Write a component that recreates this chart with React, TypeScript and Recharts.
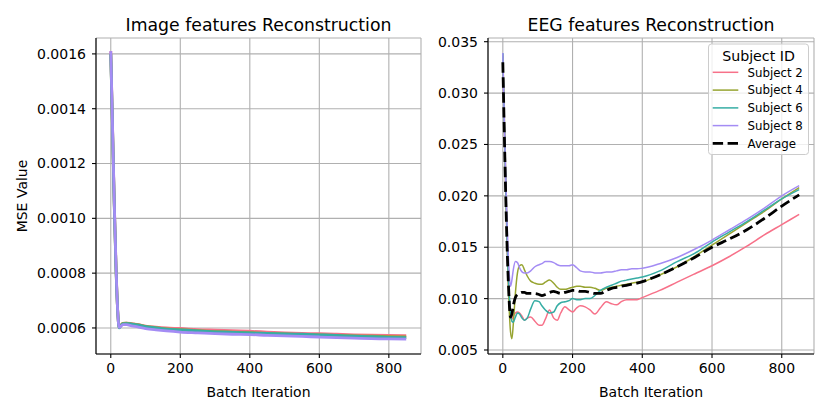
import React from 'react';
import { LineChart, Line, XAxis, YAxis, CartesianGrid } from 'recharts';

// ---------- Image features panel ----------
const imgIter = [0, 5, 10, 15, 20, 24, 28, 35, 45, 60, 80, 100, 130, 160, 200, 250, 300, 350, 400, 450, 500, 550, 600, 650, 700, 750, 800, 850];
const imgSubject2 = [0.00161, 0.00134, 0.00106, 0.00083, 0.00066, 0.000603, 0.000608, 0.000617, 0.000618, 0.000616, 0.000612, 0.000607, 0.000603, 0.0006, 0.000598, 0.000594, 0.000592, 0.00059, 0.000588, 0.000585, 0.000582, 0.00058, 0.000579, 0.000577, 0.000575, 0.000574, 0.000573, 0.000572];
const imgSubject4 = [0.0016, 0.00133, 0.00105, 0.00082, 0.00066, 0.000602, 0.000608, 0.000617, 0.000618, 0.000615, 0.000611, 0.000606, 0.000601, 0.000597, 0.000594, 0.00059, 0.000587, 0.000585, 0.000583, 0.00058, 0.000578, 0.000576, 0.000575, 0.000573, 0.000571, 0.00057, 0.000568, 0.000567];
const imgSubject6 = [0.0016, 0.00133, 0.00105, 0.00082, 0.00066, 0.0006, 0.000606, 0.000615, 0.000616, 0.000614, 0.00061, 0.000605, 0.0006, 0.000596, 0.000593, 0.000589, 0.000586, 0.000584, 0.000582, 0.00058, 0.000578, 0.000577, 0.000575, 0.000573, 0.00057, 0.000568, 0.000566, 0.000565];
const imgSubject8 = [0.00161, 0.00134, 0.00106, 0.00083, 0.00066, 0.000602, 0.000605, 0.000612, 0.000612, 0.000608, 0.000603, 0.000598, 0.000593, 0.000589, 0.000585, 0.000582, 0.000579, 0.000577, 0.000576, 0.000573, 0.000571, 0.000569, 0.000567, 0.000565, 0.000563, 0.000561, 0.00056, 0.000559];
const imgYTicks = [0.0006, 0.0008, 0.001, 0.0012, 0.0014, 0.0016];

// ---------- EEG features panel ----------
const eegIter = [0, 16, 22, 26, 30, 36, 42, 48, 55, 62, 70, 80, 92, 104, 112, 122, 134, 146, 156, 166, 178, 190, 200, 212, 222, 236, 250, 264, 280, 297, 312, 326, 340, 355, 370, 385, 400, 450, 500, 550, 600, 650, 700, 750, 800, 850];
const eegSubject2 = [0.0336, 0.0115, 0.0085, 0.008, 0.0083, 0.0086, 0.0087, 0.0086, 0.0083, 0.0079, 0.0081, 0.0082, 0.0078, 0.0074, 0.0074, 0.008, 0.0089, 0.0081, 0.0079, 0.0086, 0.0092, 0.0089, 0.0087, 0.0091, 0.0093, 0.0092, 0.0089, 0.0085, 0.0091, 0.0097, 0.0095, 0.0094, 0.0097, 0.0099, 0.0099, 0.0099, 0.0101, 0.0108, 0.0116, 0.0124, 0.0132, 0.0141, 0.0151, 0.0162, 0.0172, 0.0182];
const eegSubject4 = [0.0338, 0.011, 0.0068, 0.0061, 0.0075, 0.0105, 0.0125, 0.0132, 0.0133, 0.0128, 0.0122, 0.0117, 0.0115, 0.0114, 0.0114, 0.0116, 0.0118, 0.0115, 0.0111, 0.0109, 0.0109, 0.011, 0.0111, 0.0112, 0.0112, 0.0111, 0.0111, 0.011, 0.0108, 0.011, 0.0111, 0.0112, 0.0113, 0.0114, 0.0115, 0.0116, 0.01165, 0.0123, 0.0131, 0.0141, 0.0152, 0.0163, 0.0174, 0.0185, 0.0197, 0.0208];
const eegSubject6 = [0.0339, 0.012, 0.0088, 0.0078, 0.0077, 0.0082, 0.0086, 0.0085, 0.0081, 0.0079, 0.0081, 0.009, 0.0098, 0.0097, 0.0093, 0.0089, 0.0086, 0.0087, 0.0093, 0.0096, 0.0097, 0.0098, 0.01, 0.0099, 0.0099, 0.01, 0.01, 0.0103, 0.0108, 0.0111, 0.0113, 0.0115, 0.0117, 0.0118, 0.0119, 0.012, 0.0121, 0.0127, 0.0136, 0.0144, 0.0155, 0.0165, 0.0175, 0.0186, 0.0197, 0.0206];
const eegSubject8 = [0.0339, 0.014, 0.0112, 0.0118, 0.0128, 0.0136, 0.0135, 0.013, 0.0126, 0.0125, 0.0125, 0.0127, 0.0131, 0.0133, 0.0134, 0.0136, 0.0136, 0.0135, 0.0133, 0.0132, 0.0132, 0.0132, 0.0133, 0.013, 0.0127, 0.0126, 0.0126, 0.0125, 0.0125, 0.0126, 0.0126, 0.0127, 0.0128, 0.0128, 0.0129, 0.0129, 0.01295, 0.0134, 0.014, 0.0148, 0.0157, 0.0167, 0.0177, 0.0188, 0.02, 0.021];
const eegAverage = [0.033, 0.0115, 0.0082, 0.0085, 0.0093, 0.0101, 0.0104, 0.0105, 0.0106, 0.0106, 0.0105, 0.0105, 0.0105, 0.0104, 0.0103, 0.0104, 0.0106, 0.0107, 0.0106, 0.0105, 0.0106, 0.0107, 0.0108, 0.0108, 0.0107, 0.0107, 0.0106, 0.0105, 0.0105, 0.0108, 0.011, 0.0111, 0.0112, 0.0113, 0.0114, 0.0115, 0.01165, 0.0123, 0.0131, 0.014, 0.015, 0.0158, 0.0167, 0.0178, 0.019, 0.0201];
const eegYTicks = [0.005, 0.01, 0.015, 0.02, 0.025, 0.03, 0.035];

const xTicks = [0, 200, 400, 600, 800];
const xDomain = [-42.5, 892.5];

const subjects = [
  { key: 's2', name: 'Subject 2', color: '#f77189' },
  { key: 's4', name: 'Subject 4', color: '#97a431' },
  { key: 's6', name: 'Subject 6', color: '#36ada4' },
  { key: 's8', name: 'Subject 8', color: '#a48cf4' },
];
const averageMeta = { key: 'avg', name: 'Average', color: '#000000' };

const imgData = imgIter.map((x, i) => ({
  x,
  s2: imgSubject2[i],
  s4: imgSubject4[i],
  s6: imgSubject6[i],
  s8: imgSubject8[i],
}));

const eegData = eegIter.map((x, i) => ({
  x,
  s2: eegSubject2[i],
  s4: eegSubject4[i],
  s6: eegSubject6[i],
  s8: eegSubject8[i],
  avg: eegAverage[i],
}));

const FONT = "'DejaVu Sans', sans-serif";
const tickStyle = { fill: '#000', fontSize: 14, fontFamily: FONT };
const spine = { stroke: '#000', strokeWidth: 1.1 };

type PanelProps = {
  data: any[];
  width: number;
  yWidth: number;
  rightMargin: number;
  yDomain: number[];
  yTicks: number[];
  digits: number;
  children: React.ReactNode;
};

function Panel({ data, width, yWidth, rightMargin, yDomain, yTicks, digits, children }: PanelProps) {
  return (
    <LineChart
      width={width}
      height={415}
      data={data}
      margin={{ top: 38, right: rightMargin, bottom: 0, left: 0 }}
    >
      <CartesianGrid stroke="#b0b0b0" strokeWidth={1.1} />
      <XAxis
        dataKey="x"
        type="number"
        domain={xDomain}
        ticks={xTicks}
        allowDataOverflow
        height={61}
        tickSize={4}
        tickMargin={5}
        axisLine={spine}
        tickLine={spine}
        tick={tickStyle}
      />
      <XAxis
        xAxisId="top"
        orientation="top"
        dataKey="x"
        type="number"
        domain={xDomain}
        allowDataOverflow
        height={0}
        tick={false}
        tickLine={false}
        axisLine={spine}
      />
      <YAxis
        type="number"
        domain={yDomain}
        ticks={yTicks}
        allowDataOverflow
        width={yWidth}
        tickSize={4}
        tickMargin={6}
        axisLine={spine}
        tickLine={spine}
        tick={tickStyle}
        tickFormatter={(v: number) => v.toFixed(digits)}
      />
      <YAxis
        yAxisId="right"
        orientation="right"
        type="number"
        domain={yDomain}
        allowDataOverflow
        width={0}
        tick={false}
        tickLine={false}
        axisLine={spine}
      />
      {children}
    </LineChart>
  );
}

export default function App() {
  const rowY = [72.3, 90.1, 107.9, 125.6, 143.3];
  const legendItems = [...subjects, averageMeta];
  return (
    <div style={{ position: 'absolute', left: 0, top: 0, width: 830, height: 415, background: '#fff', overflow: 'hidden' }}>
      <div style={{ position: 'absolute', left: 0, top: 0 }}>
        <Panel data={imgData} width={430} yWidth={96} rightMargin={9} yDomain={[0.000505, 0.001658]} yTicks={imgYTicks} digits={4}>
          {subjects.map((s) => (
            <Line
              key={s.key}
              dataKey={s.key}
              name={s.name}
              type="monotone"
              stroke={s.color}
              strokeWidth={2.8}
              dot={false}
              isAnimationActive={false}
            />
          ))}
        </Panel>
      </div>
      <div style={{ position: 'absolute', left: 420, top: 0 }}>
        <Panel data={eegData} width={410} yWidth={68} rightMargin={16} yDomain={[0.00461, 0.03536]} yTicks={eegYTicks} digits={3}>
          {subjects.map((s) => (
            <Line
              key={s.key}
              dataKey={s.key}
              name={s.name}
              type="monotone"
              stroke={s.color}
              strokeWidth={1.5}
              dot={false}
              isAnimationActive={false}
            />
          ))}
          <Line
            dataKey={averageMeta.key}
            name={averageMeta.name}
            type="monotone"
            stroke={averageMeta.color}
            strokeWidth={2.8}
            strokeDasharray="10.4 4.5"
            dot={false}
            isAnimationActive={false}
          />
        </Panel>
      </div>
      <svg width={830} height={415} style={{ position: 'absolute', left: 0, top: 0, pointerEvents: 'none' }} fontFamily={FONT}>
        <text x={258.5} y={30.5} textAnchor="middle" fontSize={17.3} fill="#000">Image features Reconstruction</text>
        <text x={651} y={30.5} textAnchor="middle" fontSize={17.3} fill="#000">EEG features Reconstruction</text>
        <text x={258.5} y={396.5} textAnchor="middle" fontSize={14} fill="#000">Batch Iteration</text>
        <text x={651} y={396.5} textAnchor="middle" fontSize={14} fill="#000">Batch Iteration</text>
        <text x={27} y={196} textAnchor="middle" fontSize={14} fill="#000" transform="rotate(-90 27 196)">MSE Value</text>
        <rect x={708.5} y={44} width={100} height={110.5} rx={3} ry={3} fill="#fff" fillOpacity={0.8} stroke="#cccccc" strokeWidth={1} />
        <text x={758.5} y={60.5} textAnchor="middle" fontSize={14.2} fill="#000">Subject ID</text>
        {legendItems.map((s, i) => (
          <g key={s.key}>
            <line
              x1={712.7}
              x2={738.3}
              y1={rowY[i]}
              y2={rowY[i]}
              stroke={s.color}
              strokeWidth={s.key === 'avg' ? 2.8 : 1.5}
              strokeDasharray={s.key === 'avg' ? '10.4 4.5' : undefined}
            />
            <text x={747.5} y={rowY[i] + 4.2} fontSize={11.8} fill="#000">{s.name}</text>
          </g>
        ))}
      </svg>
    </div>
  );
}
